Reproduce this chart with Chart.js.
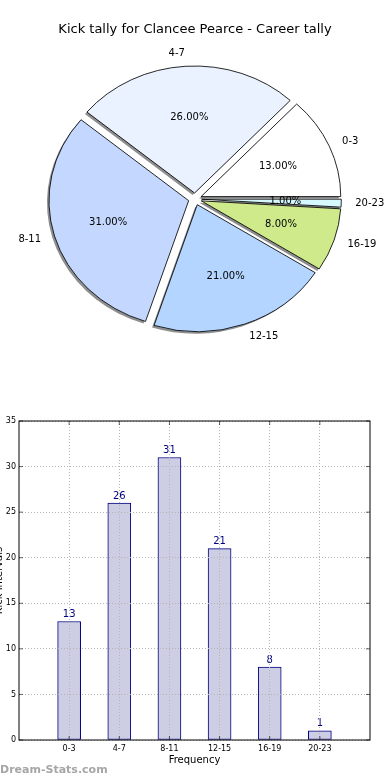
<!DOCTYPE html>
<html>
<head>
<meta charset="utf-8">
<script src="https://cdn.jsdelivr.net/npm/chart.js@4.4.1/dist/chart.umd.min.js"></script>
<style>
  html, body { margin: 0; padding: 0; background: #fff; }
  #wrap { position: relative; width: 390px; height: 780px; overflow: hidden; }
  #pieChart { position: absolute; left: 0; top: 0; }
  #barChart { position: absolute; left: 0; top: 400px; }
</style>
</head>
<body>
<div id="wrap">
  <canvas id="pieChart" width="390" height="400"></canvas>
  <canvas id="barChart" width="390" height="380"></canvas>
</div>
<script>
// data
const categories = ['0-3', '4-7', '8-11', '12-15', '16-19', '20-23'];
const kicks = [13, 26, 31, 21, 8, 1];
const sliceColors = ['#ffffff', '#eaf1ff', '#c4d8ff', '#b4d5ff', '#cfea8b', '#d6f8ff'];
const yMin = 0, yMax = 35, yStep = 5;

Chart.defaults.font.family = "'DejaVu Sans', sans-serif";
Chart.defaults.color = '#000';

// the original pie is a little wider than tall, and every slice is pulled out
const PIE_SX = 1.1;
const EXPLODE = 6;
const PIE_R = 127;

function sliceTransform(ctx, a) {
  const mid = (a.startAngle + a.endAngle) / 2;
  ctx.translate(a.x, a.y);
  ctx.scale(PIE_SX, 1);
  ctx.translate(-a.x, -a.y);
  ctx.translate(Math.cos(mid) * EXPLODE, Math.sin(mid) * EXPLODE);
}

const explodedPie = {
  id: 'explodedPie',
  beforeDatasetsDraw(chart) {
    const ctx = chart.ctx;
    const arcs = chart.getDatasetMeta(0).data;
    // shadows first, under every slice
    arcs.forEach(a => {
      ctx.save();
      ctx.translate(-2, 2);
      sliceTransform(ctx, a);
      ctx.beginPath();
      ctx.moveTo(a.x, a.y);
      ctx.arc(a.x, a.y, a.outerRadius, a.startAngle, a.endAngle);
      ctx.closePath();
      ctx.fillStyle = '#8e8e8e';
      ctx.fill();
      ctx.restore();
    });
    arcs.forEach(a => {
      ctx.save();
      sliceTransform(ctx, a);
      a.draw(ctx);
      ctx.restore();
    });
    return false;
  },
  afterDraw(chart) {
    const ctx = chart.ctx;
    const arcs = chart.getDatasetMeta(0).data;
    const values = chart.data.datasets[0].data;
    const labels = chart.data.labels;
    const total = values.reduce((s, v) => s + v, 0);
    ctx.save();
    ctx.font = "10px 'DejaVu Sans'";
    ctx.fillStyle = '#000';
    ctx.textBaseline = 'middle';
    arcs.forEach((a, i) => {
      const mid = (a.startAngle + a.endAngle) / 2;
      const dx = Math.cos(mid), dy = Math.sin(mid);
      const ex = a.x + dx * EXPLODE * PIE_SX;
      const ey = a.y + dy * EXPLODE;
      const r = a.outerRadius;
      ctx.textAlign = dx > 0 ? 'left' : 'right';
      ctx.fillText(labels[i], ex + dx * r * 1.1 * PIE_SX, ey + dy * r * 1.1);
      ctx.textAlign = 'center';
      ctx.fillText((values[i] / total * 100).toFixed(2) + '%', ex + dx * r * 0.6 * PIE_SX, ey + dy * r * 0.6);
    });
    ctx.restore();
  }
};

// matplotlib goes counter-clockwise from 3 o'clock, Chart.js clockwise: reverse
new Chart(document.getElementById('pieChart'), {
  type: 'pie',
  data: {
    labels: categories.slice().reverse(),
    datasets: [{
      data: kicks.slice().reverse(),
      backgroundColor: sliceColors.slice().reverse(),
      borderColor: '#000',
      borderWidth: 0.8
    }]
  },
  options: {
    responsive: false,
    animation: false,
    rotation: 90,
    radius: PIE_R,
    layout: { padding: { top: 0, bottom: 39.6 } },
    plugins: {
      legend: { display: false },
      tooltip: { enabled: false },
      title: {
        display: true,
        text: 'Kick tally for Clancee Pearce - Career tally',
        font: { size: 13, weight: 'normal' },
        color: '#000',
        padding: { top: 22, bottom: 0 }
      }
    }
  },
  plugins: [explodedPie]
});

const barExtras = {
  id: 'barExtras',
  afterDatasetsDraw(chart) {
    const ctx = chart.ctx;
    const bars = chart.getDatasetMeta(0).data;
    ctx.save();
    ctx.font = "10px 'DejaVu Sans'";
    ctx.fillStyle = '#000080';
    ctx.textAlign = 'center';
    ctx.textBaseline = 'bottom';
    bars.forEach((b, i) => ctx.fillText(String(kicks[i]), b.x, b.y - 2));
    ctx.restore();
  },
  afterDraw(chart) {
    const ctx = chart.ctx;
    const { left, top, right, bottom } = chart.chartArea;
    const xs = chart.scales.x, ys = chart.scales.y;
    ctx.save();
    ctx.strokeStyle = '#000';
    ctx.lineWidth = 1;
    ctx.strokeRect(left, top, right - left, bottom - top);
    // inward ticks on all four sides
    ctx.beginPath();
    xs.ticks.forEach(t => {
      const px = xs.getPixelForValue(t.value);
      ctx.moveTo(px, bottom); ctx.lineTo(px, bottom - 4);
      ctx.moveTo(px, top); ctx.lineTo(px, top + 4);
    });
    ys.ticks.forEach(t => {
      const py = ys.getPixelForValue(t.value);
      ctx.moveTo(left, py); ctx.lineTo(left + 4, py);
      ctx.moveTo(right, py); ctx.lineTo(right - 4, py);
    });
    ctx.lineWidth = 0.6;
    ctx.stroke();
    // y title, mostly clipped off the left edge as in the original
    ctx.translate(-1, (top + bottom) / 2);
    ctx.rotate(-Math.PI / 2);
    ctx.font = "10px 'DejaVu Sans'";
    ctx.fillStyle = '#000';
    ctx.textAlign = 'center';
    ctx.textBaseline = 'middle';
    ctx.fillText('Kick Intervals', 0, 0);
    ctx.restore();
    ctx.save();
    ctx.font = "bold 11px 'DejaVu Sans'";
    ctx.fillStyle = '#a6a6a6';
    ctx.textBaseline = 'middle';
    ctx.fillText('Dream-Stats.com', 0, 370);
    ctx.restore();
  }
};

new Chart(document.getElementById('barChart'), {
  type: 'bar',
  data: {
    datasets: [{
      data: kicks.map((v, i) => ({ x: i + 1, y: v })),
      backgroundColor: '#cdcde4',
      borderColor: '#000080',
      borderWidth: 1,
      borderSkipped: false,
      barThickness: 23
    }]
  },
  options: {
    responsive: false,
    animation: false,
    layout: { padding: { top: 21, right: 20, left: 0, bottom: 0 } },
    plugins: { legend: { display: false }, tooltip: { enabled: false } },
    scales: {
      x: {
        type: 'linear',
        min: 0,
        max: categories.length + 1,
        offset: false,
        afterBuildTicks: s => { s.ticks = categories.map((c, i) => ({ value: i + 1 })); },
        afterFit: s => { s.height = 40; },
        ticks: { callback: v => categories[v - 1], font: { size: 8 }, color: '#000', padding: 4, maxRotation: 0, autoSkip: false },
        grid: { color: '#b4b4b4', lineWidth: 1, drawTicks: false, offset: false, z: 1 },
        border: { display: false, dash: [1, 2] },
        title: { display: true, text: 'Frequency', font: { size: 10 }, color: '#000', padding: { top: 0, bottom: 14 } }
      },
      y: {
        min: yMin,
        max: yMax,
        afterFit: s => { s.width = 19; },
        ticks: { stepSize: yStep, font: { size: 8 }, color: '#000', padding: 3 },
        grid: { color: '#b4b4b4', lineWidth: 1, drawTicks: false, z: 1 },
        border: { display: false, dash: [1, 2] }
      }
    }
  },
  plugins: [barExtras]
});
</script>
</body>
</html>
